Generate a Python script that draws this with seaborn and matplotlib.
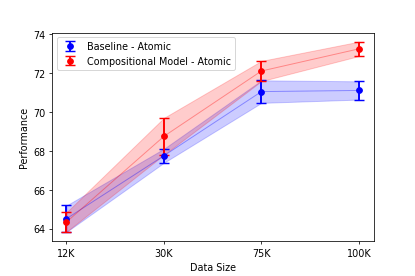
import numpy as np
import pandas as pd
import matplotlib
matplotlib.use("Agg")
import matplotlib.pyplot as plt
import seaborn as sns

# Data
data_sizes = ["12K", "30K", "75K", "100K"]
baseline_mean = [64.52, 67.76, 71.06, 71.12]
baseline_err = [0.68, 0.36, 0.58, 0.47]
comp_mean = [64.35, 68.76, 72.12, 73.26]
comp_err = [0.50, 0.95, 0.52, 0.37]

x = np.arange(len(data_sizes))
df = pd.DataFrame({
    "x": np.concatenate([x, x]),
    "Performance": baseline_mean + comp_mean,
    "model": ["Baseline - Atomic"] * 4 + ["Compositional Model - Atomic"] * 4,
})

fig, ax = plt.subplots(figsize=(6, 4), dpi=415 / 6)

series = [
    ("Baseline - Atomic", baseline_mean, baseline_err, "blue"),
    ("Compositional Model - Atomic", comp_mean, comp_err, "red"),
]
for label, mean, err, color in series:
    sub = df[df["model"] == label]
    sns.lineplot(data=sub, x="x", y="Performance", color=color, alpha=0.35,
                 linewidth=1, ax=ax, legend=False)
    lo = np.array(mean) - np.array(err)
    hi = np.array(mean) + np.array(err)
    ax.fill_between(x, lo, hi, color=color, alpha=0.2)
    ax.errorbar(x, mean, yerr=err, fmt="o", color=color, capsize=5,
                markersize=6, elinewidth=2, capthick=1.5, label=label)

ax.set_xticks(x)
ax.set_xticklabels(data_sizes)
ax.set_xlim(-0.15, 3.15)
ax.set_ylim(63.35, 74.1)
ax.set_xlabel("Data Size")
ax.set_ylabel("Performance")
ax.legend(loc="upper left")

fig.subplots_adjust(left=0.125, right=0.9, top=0.88, bottom=0.125)
fig.savefig("out.png", dpi=415 / 6)
